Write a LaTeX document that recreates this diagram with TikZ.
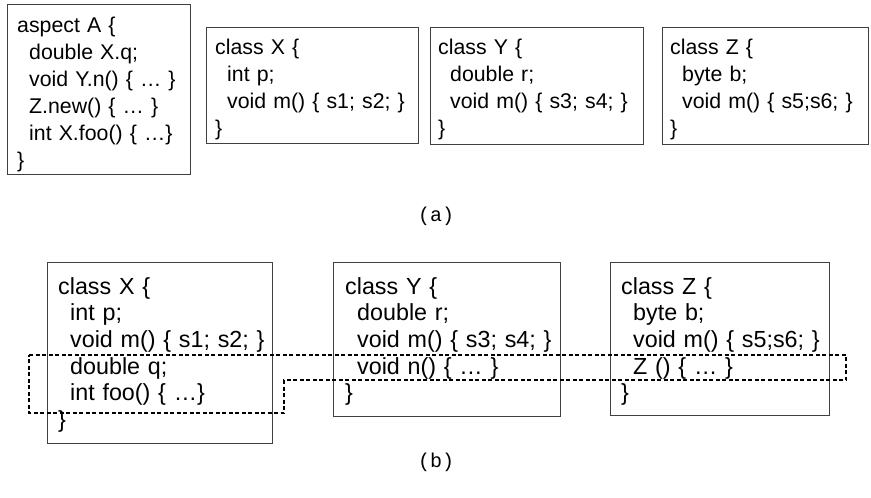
\documentclass[tikz,border=0pt]{standalone}
\usepackage{fontspec}
\setmainfont{Liberation Sans}
\newfontfamily\capfont{Liberation Mono}
\newcommand{\ind}{\hspace*{12pt}}
\begin{document}
\begin{tikzpicture}[x=1pt, y=-1pt,
  boxline/.style={draw=black!75, line width=1pt},
  codetop/.style={anchor=base west, align=left, inner sep=0pt, text width=8cm,
    font=\fontsize{21.3}{27}\selectfont},
  codebot/.style={codetop, font=\fontsize{23.3}{26.7}\selectfont},
  caption/.style={anchor=base, inner sep=0pt, font=\capfont\fontsize{20}{22}\selectfont}]
\useasboundingbox (0,0) rectangle (871,498);

% (a): the aspect and the three classes
\draw[boxline] (7,4) rectangle (190,174);
\node[codetop] (aspectA) at (17,32) {aspect A \{\\ \ind double X.q;\\ \ind void Y.n() \{ … \}\\ \ind Z.new() \{ … \}\\ \ind int X.foo() \{ …\}\\ \}};
\draw[boxline] (206,27) rectangle (418,143);
\node[codetop] (classXa) at (215,54) {class X \{\\ \ind int p;\\ \ind void m() \{ s1; s2; \}\\ \}};
\draw[boxline] (430,27) rectangle (643,144);
\node[codetop] (classYa) at (438,54) {class Y \{\\ \ind double r;\\ \ind void m() \{ s3; s4; \}\\ \}};
\draw[boxline] (662,27) rectangle (868,144);
\node[codetop] (classZa) at (670,54) {class Z \{\\ \ind byte b;\\ \ind void m() \{ s5;s6; \}\\ \}};
\node[caption] (capa) at (436,221) {(a)};

% (b): the classes after weaving
\draw[boxline] (47,262) rectangle (272,443);
\node[codebot] (classXb) at (58,294) {class X \{\\ \ind int p;\\ \ind void m() \{ s1; s2; \}\\ \ind double q;\\ \ind int foo() \{ …\}\\ \}};
\draw[boxline] (333,262) rectangle (560,416);
\node[codebot] (classYb) at (345,294) {class Y \{\\ \ind double r;\\ \ind void m() \{ s3; s4; \}\\ \ind void n() \{ … \}\\ \}};
\draw[boxline] (610,262) rectangle (829,415);
\node[codebot] (classZb) at (621,294) {class Z \{\\ \ind byte b;\\ \ind void m() \{ s5;s6; \}\\ \ind Z () \{ … \}\\ \}};
\node[caption] (capb) at (436,467) {(b)};

% woven members of aspect A
\draw[line width=1.2pt, dash pattern=on 4pt off 2.5pt]
  (29,355) -- (846,355) -- (846,380) -- (284,380) -- (284,413) -- (29,413) -- cycle;
\end{tikzpicture}
\end{document}
